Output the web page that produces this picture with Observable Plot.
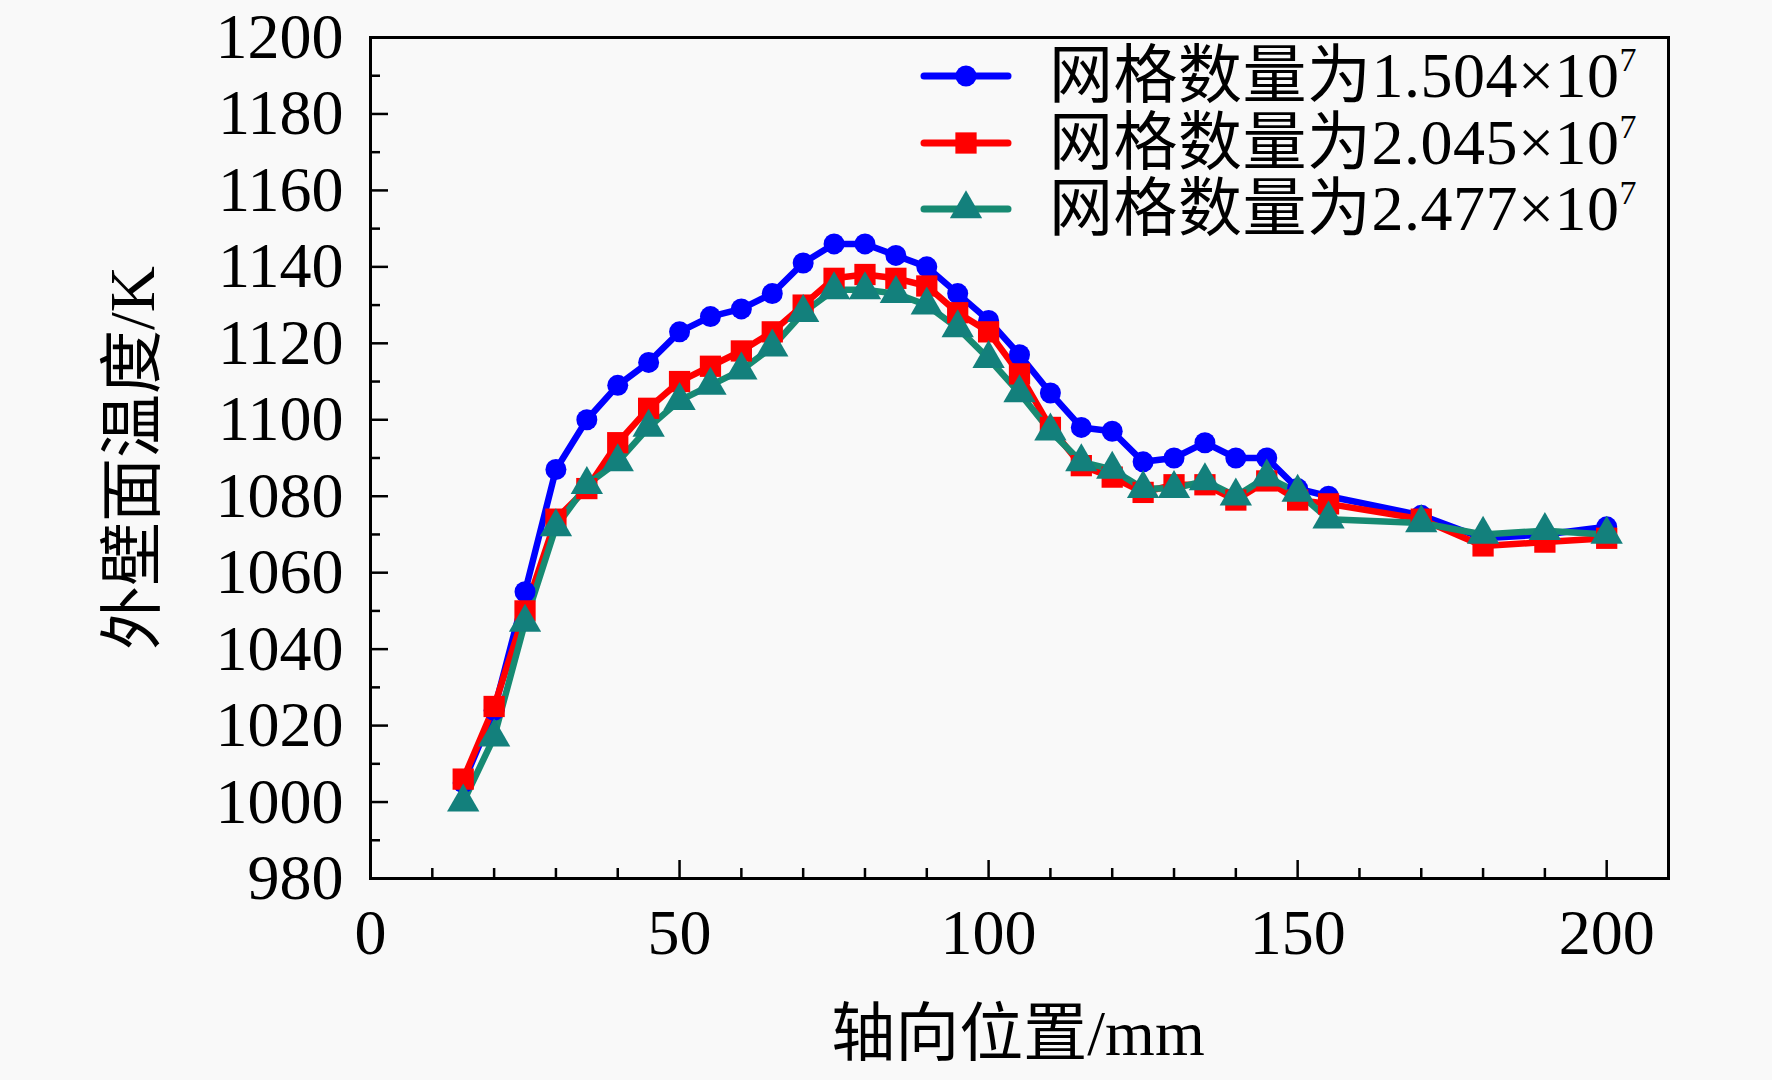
<!DOCTYPE html>
<html>
<head>
<meta charset="utf-8">
<script src="https://cdn.jsdelivr.net/npm/d3@7"></script>
<script src="https://cdn.jsdelivr.net/npm/@observablehq/plot@0.6"></script>
<style>
  html, body { margin: 0; padding: 0; background: #f9f9f9; }
  #wrap { position: relative; width: 1772px; height: 1080px; background: #f9f9f9; overflow: hidden;
          font-family: "Liberation Serif", "Noto Sans CJK SC", serif; color: #000; }
  #chart { position: absolute; left: 0; top: 0; }
  .title { position: absolute; font-size: 64px; white-space: nowrap; line-height: 1; }
  #ytitle { left: 133px; top: 458px; transform: translate(-50%, -50%) rotate(-90deg); }
  #xtitle { left: 1018px; top: 1034px; transform: translate(-50%, -50%); }
  #legend { position: absolute; left: 920px; top: 43px; }
  .row { position: relative; height: 66.5px; display: flex; align-items: center; }
  .row svg { width: 92px; height: 40px; margin-right: 37px; }
  .row span { font-size: 64px; line-height: 1; white-space: nowrap; letter-spacing: 0.5px; }
  .row sup { font-size: 34px; vertical-align: 26px; line-height: 0; }
</style>
</head>
<body>
<div id="wrap">
  <div id="chart"></div>
  <div class="title" id="ytitle">外壁面温度/K</div>
  <div class="title" id="xtitle">轴向位置/mm</div>
  <div id="legend"></div>
</div>
<script>
const positions = [15,20,25,30,35,40,45,50,55,60,65,70,75,80,85,90,95,100,105,110,115,120,125,130,135,140,145,150,155,170,180,190,200];
const temp1504 = [1005,1024,1055,1087,1100,1109,1115,1123,1127,1129,1133,1141,1146,1146,1143,1140,1133,1126,1117,1107,1098,1097,1089,1090,1094,1090,1090,1082,1080,1075,1069,1070,1072];
const temp2045 = [1006,1025,1050,1074,1082,1094,1103,1110,1114,1118,1123,1130,1137,1138,1137,1135,1128,1123,1112,1098,1088,1085,1081,1083,1083,1079,1084,1079,1078,1074,1067,1068,1069];
const temp2477 = [1000,1017,1047,1072,1083,1089,1098,1105,1109,1113,1119,1128,1134,1134,1133,1130,1124,1116,1107,1097,1089,1087,1082,1082,1084,1080,1085,1081,1074,1073,1070,1071,1070];
const seriesNames = ["网格数量为1.504×10", "网格数量为2.045×10", "网格数量为2.477×10"];
const seriesExp = ["7", "7", "7"];
const xTicksMajor = [0, 50, 100, 150, 200];
const xTicksMinor = d3.range(10, 210, 10).filter(v => v % 50 !== 0);
const yTicksMajor = d3.range(980, 1201, 20);
const yTicksMinor = d3.range(990, 1200, 20);

const styles = [
  {stroke: "#0000ff", fill: "#0000ff", symbol: "circle", r: 10.5},
  {stroke: "#ff0000", fill: "#ff0000", symbol: "square", r: 12},
  {stroke: "#178a72", fill: "#13807c", symbol: "triangle", r: 12}
];
const allSeries = [temp1504, temp2045, temp2477];
const tables = allSeries.map(vals => positions.map((x, i) => ({x, y: vals[i]})));

const marks = [];
tables.forEach((t, i) => {
  marks.push(Plot.line(t, {x: "x", y: "y", stroke: styles[i].stroke, strokeWidth: 6.5}));
});
tables.forEach((t, i) => {
  marks.push(Plot.dot(t, {x: "x", y: "y", symbol: styles[i].symbol, r: styles[i].r, fill: styles[i].fill, stroke: "none"}));
});

const fmt = d3.format("d");
const chart = Plot.plot({
  width: 1772,
  height: 1080,
  marginLeft: 370,
  marginRight: 104,
  marginTop: 37,
  marginBottom: 202,
  style: {background: "#f9f9f9", fontFamily: "'Liberation Serif', 'Noto Sans CJK SC', serif", fontSize: "64px", color: "#000"},
  x: {domain: [0, 210]},
  y: {domain: [980, 1200]},
  marks: [
    Plot.axisX({ticks: xTicksMajor, tickSize: -18, text: null, label: null, strokeWidth: 2.5}),
    Plot.axisX({ticks: xTicksMinor, tickSize: -10, text: null, label: null, strokeWidth: 2.5}),
    Plot.axisX({ticks: xTicksMajor, tickSize: 0, tickPadding: 30, label: null, tickFormat: fmt, fontSize: 64}),
    Plot.axisY({ticks: yTicksMajor, tickSize: -18, text: null, label: null, strokeWidth: 2.5}),
    Plot.axisY({ticks: yTicksMinor, tickSize: -10, text: null, label: null, strokeWidth: 2.5}),
    Plot.axisY({ticks: yTicksMajor, tickSize: 0, tickPadding: 27, label: null, tickFormat: fmt, fontSize: 64}),
    ...marks,
    Plot.frame({stroke: "#000", strokeWidth: 3})
  ]
});
document.getElementById("chart").appendChild(chart);

// legend
const legend = d3.select("#legend");
styles.forEach((s, i) => {
  const row = legend.append("div").attr("class", "row");
  const svg = row.append("svg").attr("viewBox", "0 0 92 40");
  svg.append("line").attr("x1", 4).attr("x2", 88).attr("y1", 20).attr("y2", 20)
     .attr("stroke", s.stroke).attr("stroke-width", 7).attr("stroke-linecap", "round");
  const sym = {circle: d3.symbolCircle, square: d3.symbolSquare, triangle: d3.symbolTriangle}[s.symbol];
  svg.append("path").attr("transform", "translate(46,20)")
     .attr("d", d3.symbol(sym, Math.PI * s.r * s.r)()).attr("fill", s.fill);
  const span = row.append("span");
  span.text(seriesNames[i]);
  span.append("sup").text(seriesExp[i]);
});
</script>
</body>
</html>
